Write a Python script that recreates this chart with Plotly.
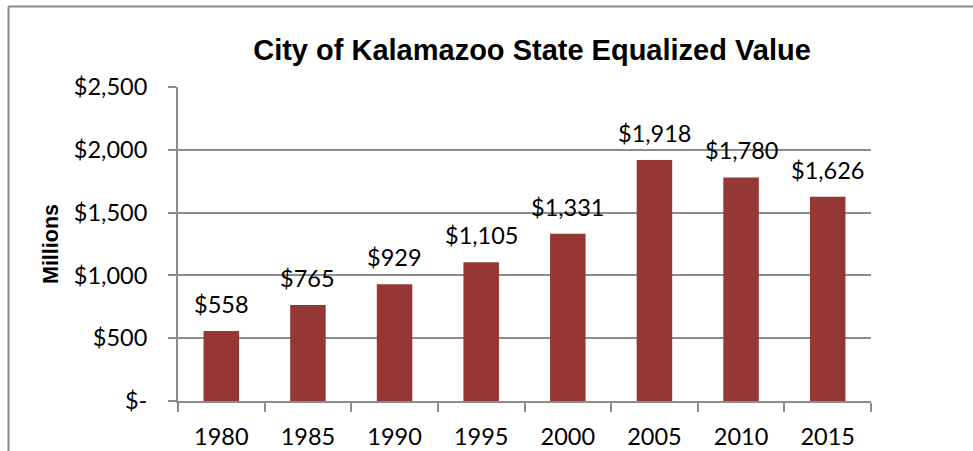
import plotly.graph_objects as go

years = ["1980", "1985", "1990", "1995", "2000", "2005", "2010", "2015"]
values = [558, 765, 929, 1105, 1331, 1918, 1780, 1626]
labels = ["$558", "$765", "$929", "$1,105", "$1,331", "$1,918", "$1,780", "$1,626"]
y_tickvals = [0, 500, 1000, 1500, 2000, 2500]
y_ticktext = ["$-", "$500", "$1,000", "$1,500", "$2,000", "$2,500"]

BAR = "#953735"
GRID = "#8c8c8c"
FONT = "Lato, Calibri, Carlito, sans-serif"
TS = 23.5

fig = go.Figure()
fig.add_trace(go.Bar(x=years, y=values, marker=dict(color=BAR, line=dict(width=0)),
                     width=0.41, hoverinfo="skip"))

for i, (y, t) in enumerate(zip(values, labels)):
    fig.add_annotation(x=i, y=y, xref="x", yref="y", text=t, showarrow=False,
                       yanchor="bottom", yshift=11,
                       font=dict(family=FONT, size=TS, color="black"))

L, R, T, B = 178, 102, 87, 50
W, H = 973, 451
pw, ph = W - L - R, H - T - B

fig.add_shape(type="line", xref="paper", yref="paper",
              x0=(8 - L) / pw, x1=(W + 5 - L) / pw,
              y0=1 + (T - 6.5) / ph, y1=1 + (T - 6.5) / ph,
              line=dict(color="#8a8a8a", width=2))
fig.add_shape(type="line", xref="paper", yref="paper",
              x0=(8.5 - L) / pw, x1=(8.5 - L) / pw,
              y0=1 + (T - 6.5) / ph, y1=-(B + 5) / ph,
              line=dict(color="#8a8a8a", width=2))

fig.update_layout(
    width=W, height=H,
    margin=dict(l=L, r=R, t=T, b=B, autoexpand=False),
    paper_bgcolor="white", plot_bgcolor="white",
    showlegend=False,
    bargap=0.59,
    title=dict(text="<b>City of Kalamazoo State Equalized Value</b>",
               x=(532 / W), xanchor="center", y=1 - 50 / H, yanchor="middle",
               font=dict(family="Liberation Sans, Arial, sans-serif", size=29, color="black")),
    font=dict(family=FONT, size=TS, color="black"),
)
fig.update_xaxes(
    type="category", showline=True, linecolor=GRID, linewidth=2,
    ticks="outside", tickson="boundaries", ticklen=9, tickcolor=GRID, tickwidth=2,
    ticklabelstandoff=14,
    tickfont=dict(family=FONT, size=TS, color="black"),
    showgrid=False, range=[-0.5, 7.5],
)
fig.update_yaxes(
    range=[0, 2500], tickvals=y_tickvals, ticktext=y_ticktext,
    showline=True, linecolor=GRID, linewidth=2,
    ticks="outside", ticklen=8, tickcolor=GRID, tickwidth=2,
    ticklabelstandoff=16,
    showgrid=True, gridcolor=GRID, gridwidth=2,
    zeroline=False,
    tickfont=dict(family=FONT, size=TS, color="black"),
    title=dict(text="<b>Millions</b>", standoff=9,
               font=dict(family="Liberation Sans, Arial, sans-serif", size=21.5, color="black")),
)

fig.write_html("out.html", config={"displayModeBar": False},
               post_script="document.body.style.margin='0';")
